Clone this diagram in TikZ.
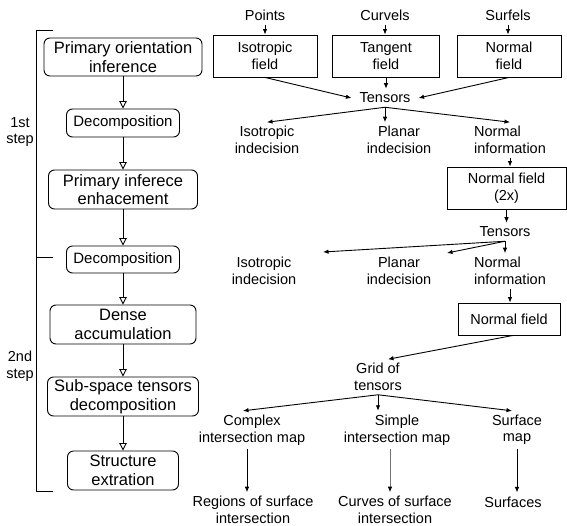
\documentclass[tikz,border=0pt]{standalone}
\usepackage{fontspec}
\setmainfont{Liberation Sans}
\usetikzlibrary{arrows.meta,calc}
\begin{document}
\begin{tikzpicture}[x=1pt,y=-1pt,
  lw/.style={line width=0.9pt},
  lbox/.style={draw,lw,rounded corners=6pt,align=center,font=\fontsize{16.5}{18.5}\selectfont,inner sep=0pt},
  dbox/.style={lbox,font=\fontsize{15}{17}\selectfont},
  rbox/.style={draw,lw,align=center,font=\fontsize{14.5}{16.5}\selectfont,inner sep=0pt},
  txt/.style={align=center,font=\fontsize{14.5}{16.5}\selectfont,inner xsep=2pt,inner ysep=4pt},
  oarr/.style={lw,-{Triangle[open,length=7.5pt,width=7.5pt]}},
  farr/.style={lw,-{Latex[length=5.5pt,width=4.5pt]}},
]
\useasboundingbox (0,0) rectangle (567,525);

% left column
\node[lbox,minimum width=158pt,minimum height=38pt] (b1) at (123,57) {Primary orientation\\inference};
\node[dbox,minimum width=113pt,minimum height=28pt] (b2) at (123,123) {Decomposition};
\node[lbox,minimum width=149pt,minimum height=39pt] (b3) at (123,189.5) {Primary inferece\\enhacement};
\node[dbox,minimum width=113pt,minimum height=27pt] (b4) at (123,259.5) {Decomposition};
\node[lbox,minimum width=146pt,minimum height=39pt] (b5) at (123,324.5) {Dense\\accumulation};
\node[lbox,minimum width=151pt,minimum height=39pt] (b6) at (123,396.5) {Sub-space tensors\\decomposition};
\node[lbox,minimum width=111pt,minimum height=39pt] (b7) at (123,470.5) {Structure\\extration};
\draw[oarr] (b1) -- (b2);
\draw[oarr] (b2) -- (b3);
\draw[oarr] (b3) -- (b4);
\draw[oarr] (b4) -- (b5);
\draw[oarr] (b5) -- (b6);
\draw[oarr] (b6) -- (b7);

% brackets
\draw[lw] (53,30) -- (36,30) -- (36,491) -- (53,491);
\draw[lw] (36,257) -- (53,257);
\node[txt] (s1) at (20,132) {1st\\step};
\node[txt] (s2) at (20,366) {2nd\\step};

% right: inputs
\node[txt] (pts) at (265,15) {Points};
\node[txt] (crv) at (385,15) {Curvels};
\node[txt] (srf) at (508,15) {Surfels};
\node[rbox,minimum width=104pt,minimum height=42pt] (iso) at (265,56) {Isotropic\\field};
\node[rbox,minimum width=107pt,minimum height=42pt] (tan) at (386,56) {Tangent\\field};
\node[rbox,minimum width=104pt,minimum height=42pt] (nor) at (509,56) {Normal\\field};
\draw[farr] (pts.south) -- (pts.south |- iso.north);
\draw[farr] (crv.south) -- (crv.south |- tan.north);
\draw[farr] (srf.south) -- (srf.south |- nor.north);

\node[txt,inner xsep=8pt] (tA) at (385,98) {Tensors};
\draw[farr] (iso.south) -- (tA.west);
\draw[farr] (tan.south) -- (tan.south |- tA.north);
\draw[farr] (nor.south) -- (tA.east);

\node[txt] (iiA) at (267,140) {Isotropic\\indecision};
\node[txt] (piA) at (399,140) {Planar\\indecision};
\node[txt,align=left] (niA) at (510,140) {Normal\\information};
\draw[farr] (tA.south) -- (iiA.north);
\draw[farr] (tA.south) -- (tA.south |- piA.north);
\draw[farr] (tA.south) -- (niA.north);

\node[rbox,minimum width=119pt,minimum height=42pt] (n2) at (506.5,188) {Normal field\\(2x)};
\draw[farr] (niA.south) -- (niA.south |- n2.north);

\node[txt] (tB) at (505,232) {Tensors};
\draw[farr] (n2.south) -- (n2.south |- tB.north);
\coordinate (eI) at (323,252);
\coordinate (eP) at (447,253);
\node[txt] (iiB) at (264,271) {Isotropic\\indecision};
\node[txt] (piB) at (399,271) {Planar\\indecision};
\node[txt,align=left] (niB) at (510,271) {Normal\\information};
\draw[farr] (tB.south) -- (eI);
\draw[farr] (tB.south) -- (eP);
\draw[farr] (tB.south) -- (tB.south |- niB.north);

\node[rbox,minimum width=102pt,minimum height=32pt] (nf) at (509,319) {Normal field};
\draw[farr] (niB.south) -- (niB.south |- nf.north);

\node[txt] (grid) at (378,377) {Grid of\\tensors};
\draw[farr] ([xshift=4pt]nf.south) -- ([xshift=10pt]grid.north);

\node[txt] (cx) at (252,430) {Complex\\intersection map};
\node[txt] (sm) at (397,430) {Simple\\intersection map};
\node[txt] (sf) at (517,430) {Surface\\map};
\draw[farr] (grid.south) -- ([xshift=-9pt]cx.north);
\draw[farr] (grid.south) -- (grid.south |- sm.north);
\draw[farr] (grid.south) -- ([xshift=-5pt]sf.north);

\node[txt] (rg) at (253,510) {Regions of surface\\intersection};
\node[txt] (cv) at (395,510) {Curves of surface\\intersection};
\node[txt] (sfs) at (513,502) {Surfaces};
\draw[farr] ([xshift=-5pt]cx.south) -- ([xshift=-5pt]cx.south |- rg.north);
\draw[lw,draw=black!55,-{Latex[length=5.5pt,width=4.5pt,color=black]}] ([xshift=-7pt]sm.south) -- ([xshift=-7pt]sm.south |- cv.north);
\draw[farr] (sf.south) -- (sf.south |- sfs.north);
\end{tikzpicture}
\end{document}
